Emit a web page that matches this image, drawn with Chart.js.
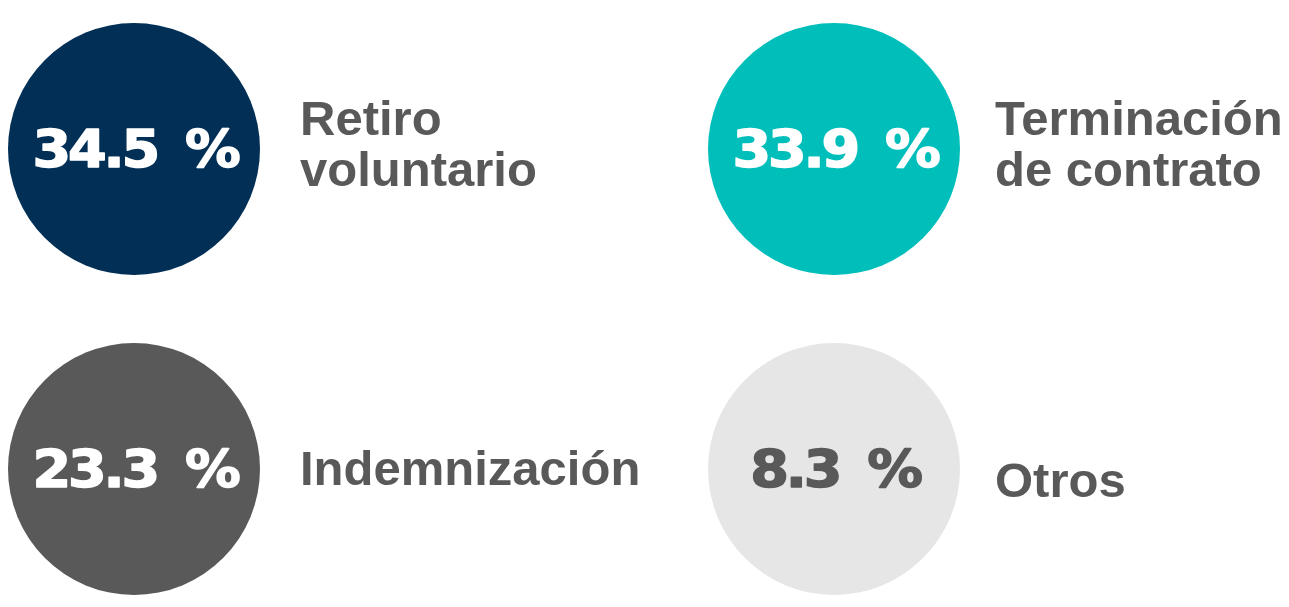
<!DOCTYPE html>
<html>
<head>
<meta charset="utf-8">
<script src="https://cdn.jsdelivr.net/npm/chart.js@4.4.1/dist/chart.umd.min.js"></script>
<style>
    html, body { margin: 0; padding: 0; background: #ffffff; }
    #wrap { width: 1289px; height: 607px; position: relative; }
</style>
</head>
<body>
<div id="wrap"><canvas id="motivos"></canvas></div>
<script>
// Motivos de salida (%)
const labels = [['Retiro', 'voluntario'], ['Terminación', 'de contrato'], ['Indemnización'], ['Otros']];
const values = [34.5, 33.9, 23.3, 8.3];
// grid slot of each circle (column, row)
const cols = [0, 1, 0, 1];
const rows = [0, 0, 1, 1];
const colors = ['#022f56', '#00bfbb', '#595959', '#e6e6e6'];
const valueColors = ['#ffffff', '#ffffff', '#ffffff', '#595959'];

var textPlugin = {
    id: 'circleText',
    afterDatasetsDraw: function (chart) {
        var ctx = chart.ctx;
        var meta = chart.getDatasetMeta(0);
        meta.data.forEach(function (el, i) {
            // value inside the circle (slightly stretched, heavy look)
            ctx.save();
            ctx.translate(el.x + 1, el.y + 18);
            ctx.scale(1.07, 1);
            ctx.font = 'bold 52px "DejaVu Sans"';
            ctx.letterSpacing = '-3px';
            ctx.wordSpacing = '11px';
            ctx.fillStyle = valueColors[i];
            ctx.strokeStyle = valueColors[i];
            ctx.lineWidth = 1.5;
            ctx.lineJoin = 'round';
            ctx.textAlign = 'center';
            ctx.textBaseline = 'alphabetic';
            var txt = values[i].toFixed(1) + ' %';
            ctx.fillText(txt, 0, 0);
            ctx.strokeText(txt, 0, 0);
            ctx.restore();

            // label on the right
            ctx.save();
            ctx.font = 'bold 49px "Liberation Sans", Arial, sans-serif';
            ctx.fillStyle = '#595959';
            ctx.textAlign = 'left';
            ctx.textBaseline = 'alphabetic';
            var lines = labels[i];
            var lx = el.x + (cols[i] ? 161 : 166);
            if (lines.length == 2) {
                ctx.fillText(lines[0], lx, el.y - 14);
                ctx.fillText(lines[1], lx, el.y + 37);
            } else {
                ctx.fillText(lines[0], lx, el.y + (cols[i] ? 28 : 16));
            }
            ctx.restore();
        });
    }
};

var ctx = document.getElementById('motivos');
var chart = new Chart(ctx, {
    type: 'bubble',
    data: {
        datasets: [{
            label: 'Motivos',
            data: values.map(function (v, i) {
                return { x: cols[i], y: rows[i], r: 126 };
            }),
            backgroundColor: colors,
            borderWidth: 0,
            hoverBorderWidth: 0,
            clip: false
        }]
    },
    options: {
        responsive: true,
        maintainAspectRatio: false,
        animation: false,
        layout: { padding: 0, autoPadding: false },
        plugins: {
            legend: { display: false },
            tooltip: { enabled: false },
            title: { display: false }
        },
        scales: {
            x: { type: 'linear', display: false, min: -134 / 700, max: -134 / 700 + 1289 / 700 },
            y: { type: 'linear', display: false, reverse: true, min: -149 / 320, max: -149 / 320 + 607 / 320 }
        }
    },
    plugins: [textPlugin]
});
</script>
</body>
</html>
